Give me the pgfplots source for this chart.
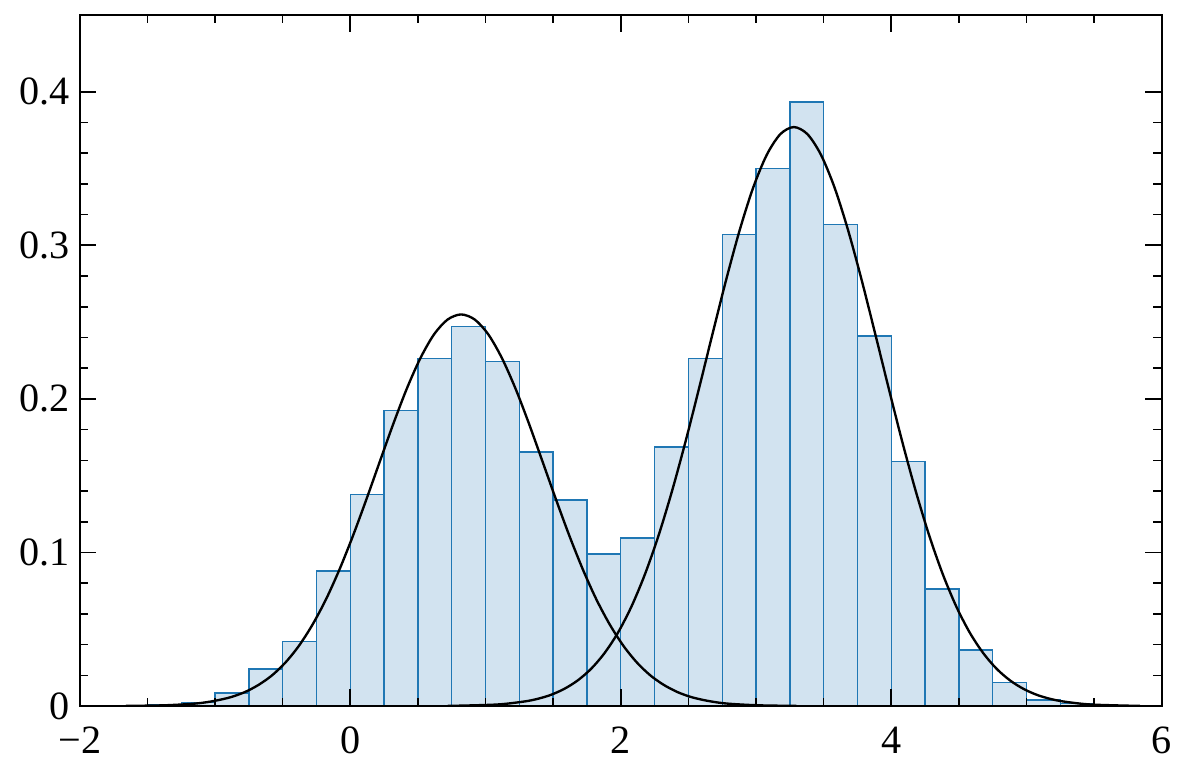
\documentclass[border=0pt]{standalone}
\usepackage{fontspec}
\setmainfont{Liberation Serif}
\usepackage{pgfplots}
\pgfplotsset{compat=1.18}
\definecolor{cblue}{RGB}{31,119,180}
\definecolor{cfill}{RGB}{210,227,240}
\begin{document}
\begin{tikzpicture}
\begin{axis}[
  scale only axis,
  width=390.6pt, height=249.5pt,
  xmin=-2, xmax=6, ymin=0, ymax=0.45,
  xtick={-2,0,2,4,6}, xticklabels={−2,0,2,4,6},
  ytick={0,0.1,0.2,0.3,0.4}, yticklabels={0,0.1,0.2,0.3,0.4},
  minor x tick num=3, minor y tick num=4,
  tick align=inside, tick pos=both,
  major tick length=6pt, minor tick length=3pt,
  axis line style={line width=0.7pt},
  every tick/.style={black, line width=0.6pt},
  ticklabel style={font=\fontsize{14.5}{16}\selectfont},
  xticklabel style={yshift=-4pt},
  axis on top,
]
\addplot[ybar interval, fill=cfill, draw=cblue, line width=0.5pt] coordinates {
(-1.5,0.0010) (-1.25,0.0024) (-1.0,0.0084) (-0.75,0.0242) (-0.5,0.0422)
(-0.25,0.0879) (0,0.1378) (0.25,0.1926) (0.5,0.2264) (0.75,0.2472)
(1.0,0.2242) (1.25,0.1654) (1.5,0.1342) (1.75,0.0989) (2.0,0.1095)
(2.25,0.1688) (2.5,0.2264) (2.75,0.3070) (3.0,0.3500) (3.25,0.3933)
(3.5,0.3134) (3.75,0.2409) (4.0,0.1591) (4.25,0.0762) (4.5,0.0366)
(4.75,0.0154) (5.0,0.0040) (5.25,0.0015) (5.5,0.0005) (5.75,0.0005)
};
\addplot[black, line width=0.85pt, smooth] coordinates {
(-1.66,0.0001) (-1.38,0.0005) (-1.18,0.0014) (-1.08,0.0023) (-0.98,0.0038)
(-0.88,0.0059) (-0.78,0.0091) (-0.68,0.0137) (-0.58,0.0199) (-0.48,0.0283)
(-0.38,0.0392) (-0.28,0.0529) (-0.18,0.0694) (-0.08,0.0889) (0.02,0.1109)
(0.12,0.1348) (0.22,0.1596) (0.32,0.1842) (0.42,0.2071) (0.52,0.2268)
(0.62,0.2421) (0.72,0.2517) (0.82,0.2550) (0.92,0.2517) (1.02,0.2421)
(1.12,0.2268) (1.22,0.2071) (1.32,0.1842) (1.42,0.1596) (1.52,0.1348)
(1.62,0.1109) (1.72,0.0889) (1.82,0.0694) (1.92,0.0529) (2.02,0.0392)
(2.12,0.0283) (2.22,0.0199) (2.32,0.0137) (2.42,0.0091) (2.52,0.0059)
(2.62,0.0038) (2.72,0.0023) (2.82,0.0014) (3.02,0.0005) (3.30,0.0001)
};
\addplot[black, line width=0.85pt, smooth] coordinates {
(0.72,0.0001) (1.08,0.0010) (1.28,0.0029) (1.38,0.0046) (1.48,0.0072)
(1.58,0.0111) (1.68,0.0166) (1.78,0.0242) (1.88,0.0345) (1.98,0.0479)
(2.08,0.0650) (2.18,0.0861) (2.28,0.1112) (2.38,0.1403) (2.48,0.1726)
(2.58,0.2073) (2.68,0.2429) (2.78,0.2778) (2.88,0.3101) (2.98,0.3378)
(3.08,0.3590) (3.18,0.3724) (3.28,0.3770) (3.38,0.3724) (3.48,0.3590)
(3.58,0.3378) (3.68,0.3101) (3.78,0.2778) (3.88,0.2429) (3.98,0.2073)
(4.08,0.1726) (4.18,0.1403) (4.28,0.1112) (4.38,0.0861) (4.48,0.0650)
(4.58,0.0479) (4.68,0.0345) (4.78,0.0242) (4.88,0.0166) (4.98,0.0111)
(5.08,0.0072) (5.18,0.0046) (5.28,0.0029) (5.48,0.0010) (5.84,0.0001)
};
\end{axis}
\path ([shift={(-28.8pt,-28.08pt)}]current axis.south west) rectangle ([shift={(5.76pt,5.4pt)}]current axis.north east);
\end{tikzpicture}
\end{document}
